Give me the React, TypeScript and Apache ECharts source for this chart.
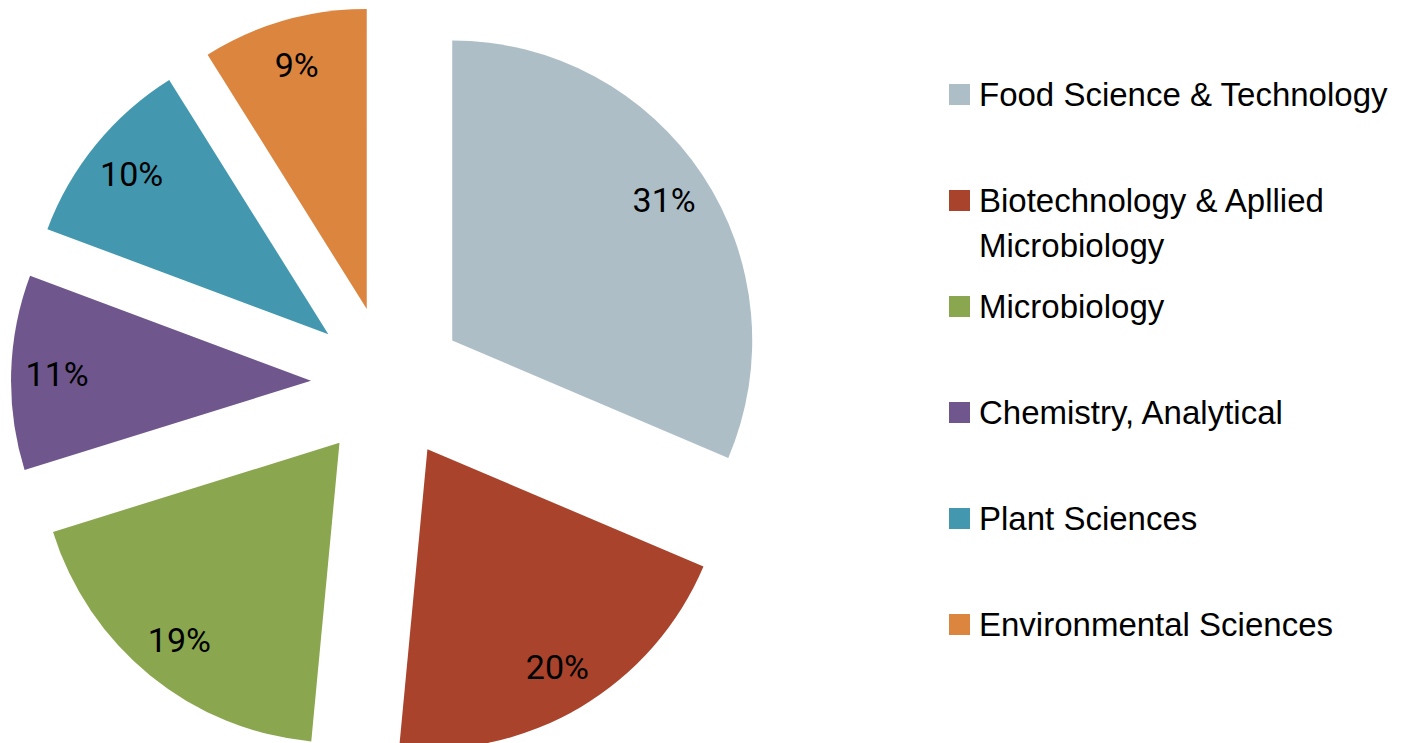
import React, { useEffect, useRef } from "react";
import * as echarts from "echarts";

const categories = [
  "Food Science & Technology",
  "Biotechnology & Apllied Microbiology",
  "Microbiology",
  "Chemistry, Analytical",
  "Plant Sciences",
  "Environmental Sciences",
];
const legendLabels = [
  "Food Science & Technology",
  "\nBiotechnology & Apllied\nMicrobiology",
  "Microbiology",
  "Chemistry, Analytical",
  "Plant Sciences",
  "Environmental Sciences",
];
const shares = [31.4, 20.1, 18.7, 10.5, 10.4, 8.9];
const colors = ["#AEBEC7", "#A9432C", "#8AA64E", "#6F578E", "#4398AF", "#DB853F"];

const CX = 388;
const CY = 383;
const R = 300;
const OFFSET = 77;
const ICON_TOPS = [84, 190, 296, 402, 508, 614];

export default function App() {
  const ref = useRef<HTMLDivElement>(null);
  useEffect(() => {
    if (!ref.current) return;
    const chart = echarts.init(ref.current, null, { renderer: "svg" });
    const data = categories.map((name, i) => ({
      name,
      value: shares[i],
      selected: true,
      itemStyle: { color: colors[i] },
      select: { itemStyle: { color: colors[i], borderWidth: 0 } },
    }));
    const labelData = categories.map((name, i) => ({
      name,
      value: shares[i],
      selected: true,
    }));
    const legendFont = "'Liberation Sans', Arial, sans-serif";
    const legends = categories.map((name, i) => {
      const multi = legendLabels[i].includes("\n");
      return {
        show: true,
        orient: "vertical",
        left: 949,
        top: multi ? ICON_TOPS[i] - 57 : ICON_TOPS[i] - 6,
        padding: 0,
        itemWidth: 21,
        itemHeight: 21,
        icon: "rect",
        selectedMode: false,
        data: [{ name, itemStyle: { color: colors[i] } }],
        formatter: () => legendLabels[i],
        textStyle: {
          fontFamily: legendFont,
          fontSize: 33,
          color: "#000",
          lineHeight: multi ? 45 : 21,
          padding: [0, 0, 0, 4],
        },
      };
    });
    chart.setOption({
      animation: false,
      legend: legends,
      series: [
        {
          type: "pie",
          center: [CX, CY],
          radius: [0, R],
          startAngle: 90,
          clockwise: true,
          selectedMode: "multiple",
          selectedOffset: OFFSET,
          silent: true,
          label: { show: false },
          labelLine: { show: false },
          emphasis: { disabled: true },
          data,
        },
        {
          type: "pie",
          center: [CX, CY],
          radius: [202, R],
          startAngle: 90,
          clockwise: true,
          selectedMode: "multiple",
          selectedOffset: OFFSET,
          silent: true,
          itemStyle: { color: "rgba(0,0,0,0)" },
          select: { itemStyle: { color: "rgba(0,0,0,0)", borderWidth: 0 } },
          emphasis: { disabled: true },
          labelLine: { show: false },
          label: {
            show: true,
            position: "inside",
            formatter: (p: any) => Math.round(p.value) + "%",
            color: "#000",
            fontSize: 34,
            fontFamily: "Roboto, sans-serif",
          },
          data: labelData,
        },
      ],
    });
    return () => chart.dispose();
  }, []);
  return (
    <div
      ref={ref}
      style={{ position: "absolute", left: 0, top: 0, width: 1416, height: 743, background: "#fff" }}
    />
  );
}
